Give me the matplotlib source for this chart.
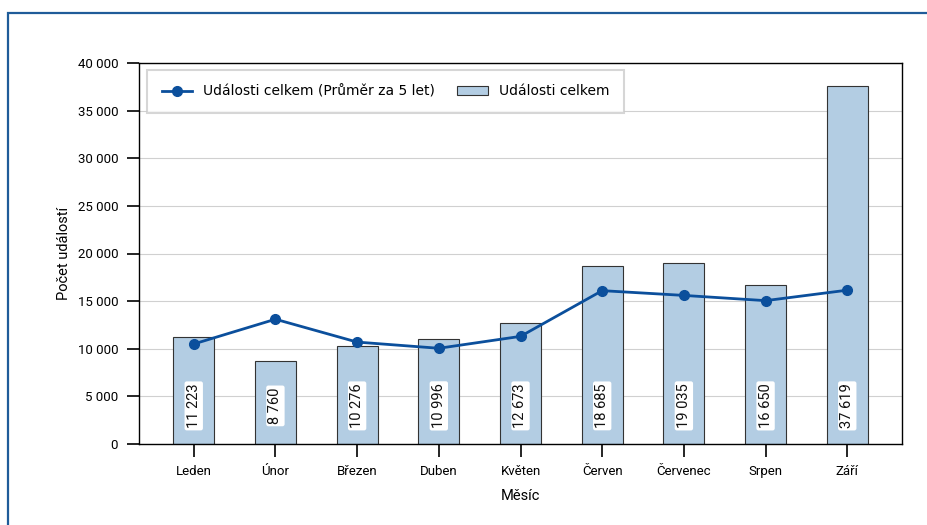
import matplotlib
matplotlib.use("Agg")
import matplotlib.pyplot as plt
from matplotlib.patches import Rectangle
import numpy as np

months = ["Leden", "Únor", "Březen", "Duben", "Květen", "Červen", "Červenec", "Srpen", "Září"]
events_total = [11223, 8760, 10276, 10996, 12673, 18685, 19035, 16650, 37619]
avg_5y = [10500, 13100, 10700, 10050, 11300, 16100, 15600, 15050, 16150]
yticks = [0, 5000, 10000, 15000, 20000, 25000, 30000, 35000, 40000]

def fmt(v):
    return f"{v:,}".replace(",", " ")

fig = plt.figure(figsize=(9.28, 5.25), dpi=100)
fig.patches.append(Rectangle((8/928, -0.1), 1.2, 1 - 13/525 + 0.1, transform=fig.transFigure,
                             fill=False, edgecolor="#1f5c99", linewidth=1.6, zorder=0))
ax = fig.add_axes([139/928, 1 - 444/525, (902-139)/928, (444-63)/525])

x = np.arange(len(months))
bar_color = "#b3cde3"
line_color = "#0b4f9c"
ax.bar(x, events_total, width=0.5, color=bar_color, edgecolor="#333333", linewidth=0.8,
       label="Události celkem", zorder=2)
ax.plot(x, avg_5y, color=line_color, linewidth=2, marker="o", markersize=7,
        label="Události celkem (Průměr za 5 let)", zorder=3)

for xi, v in zip(x, events_total):
    ax.text(xi, 4000, fmt(v), rotation=90, ha="center", va="center", fontsize=10.5,
            family="Roboto", color="#111111", zorder=4,
            bbox=dict(boxstyle="round,pad=0.15", facecolor="white", edgecolor="none"))

ax.set_ylim(0, 40000)
ax.set_xlim(-0.67, 8.67)
ax.set_yticks(yticks)
ax.set_yticklabels([fmt(v) for v in yticks], family="Roboto", fontsize=9.5)
ax.set_xticks(x)
ax.set_xticklabels(months, family="Roboto", fontsize=9.5)
ax.tick_params(axis="both", length=9, width=1.2, pad=6)
ax.yaxis.grid(True, color="#d0d0d0", linewidth=0.8, zorder=0)
ax.set_axisbelow(True)
for s in ax.spines.values():
    s.set_linewidth(1.0)
ax.set_ylabel("Počet událostí", family="Roboto", fontsize=10.5, labelpad=5)
ax.set_xlabel("Měsíc", family="Roboto", fontsize=10.5, labelpad=8)

leg = ax.legend(loc="upper left", ncol=2, frameon=True, fontsize=10,
                bbox_to_anchor=(0.0105, 0.982), borderaxespad=0, borderpad=1.05,
                columnspacing=1.6, fancybox=False, edgecolor="#cccccc", handlelength=2.2)
leg.get_frame().set_linewidth(1.5)

fig.savefig("out.png", dpi=100)
